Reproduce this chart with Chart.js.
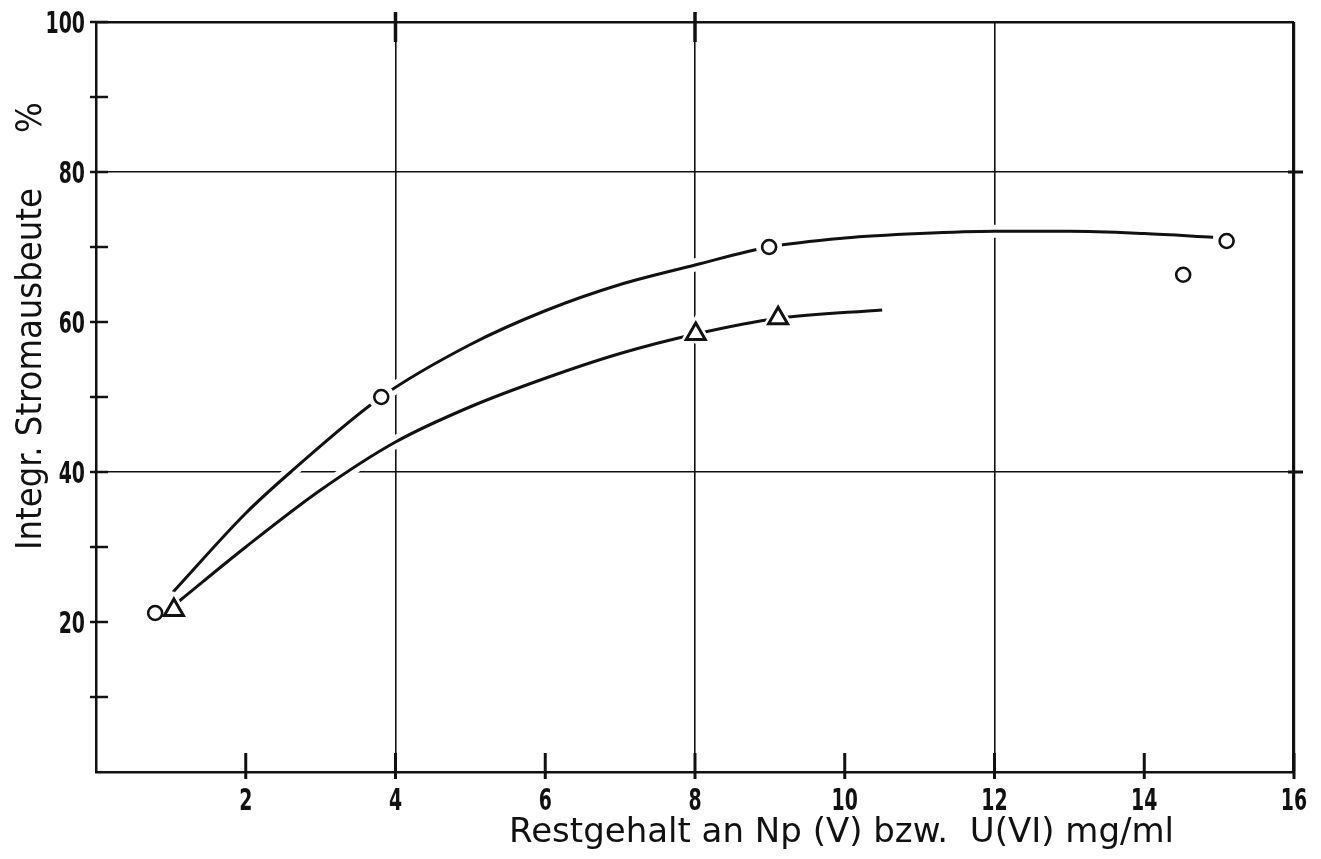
<!DOCTYPE html>
<html lang="de">
<head>
<meta charset="utf-8">
<title>Integr. Stromausbeute</title>
<script src="https://cdn.jsdelivr.net/npm/chart.js@4.4.1/dist/chart.umd.min.js"></script>
<style>
  html, body { margin: 0; padding: 0; background: #fff; }
  #wrap { width: 1321px; height: 859px; }
</style>
</head>
<body>
<div id="wrap"><canvas id="chart" width="1321" height="859"></canvas></div>
<script>
// Messpunkte (Kreise bzw. Dreiecke)
const kreise = [
  { x: 0.79, y: 21.2 }, { x: 3.81, y: 50.0 }, { x: 8.99, y: 70.0 },
  { x: 14.52, y: 66.3 }, { x: 15.1, y: 70.8 }
];
const dreiecke = [
  { x: 1.04, y: 21.6 }, { x: 8.01, y: 58.4 }, { x: 9.11, y: 60.5 }
];

// Ausgleichskurven
const kurveOben = [
  { x: 1.03, y: 24.0 }, { x: 2, y: 34.5 }, { x: 2.6, y: 40.0 }, { x: 3.81, y: 50.0 },
  { x: 5, y: 57.0 }, { x: 6, y: 61.5 }, { x: 7, y: 65.0 }, { x: 8, y: 67.6 },
  { x: 8.99, y: 70.0 }, { x: 10, y: 71.2 }, { x: 11, y: 71.8 }, { x: 12, y: 72.1 },
  { x: 13, y: 72.1 }, { x: 14, y: 71.8 }, { x: 14.92, y: 71.3 }
];
const kurveUnten = [
  { x: 1.1, y: 22.7 }, { x: 2, y: 30.0 }, { x: 3, y: 37.6 }, { x: 4, y: 44.0 },
  { x: 5, y: 48.7 }, { x: 6, y: 52.5 }, { x: 7, y: 55.8 }, { x: 8.01, y: 58.4 },
  { x: 9.11, y: 60.5 }, { x: 10.5, y: 61.6 }
];

// Achsen
const xTicks = [2, 4, 6, 8, 10, 12, 14, 16];
const yTicks = [10, 20, 30, 40, 50, 60, 70, 80, 90, 100];
const yLabels = [20, 40, 60, 80, 100];
const xGitter = [4, 8, 12];
const yGitter = [40, 80];
const xTitel = 'Restgehalt an Np (V) bzw.  U(VI) mg/ml';
const yTitel = 'Integr. Stromausbeute';
const yEinheit = '%';

const zahlFont = "'DejaVu Sans Condensed', 'DejaVu Sans', sans-serif";
const textFont = "'DejaVu Sans Condensed', 'DejaVu Sans', sans-serif";
const titelFont = "'DejaVu Sans', sans-serif";
const schwarz = '#111';

// schmale Ziffern: Schrift horizontal gestaucht
function schmalerText(ctx, text, px, py, align) {
  ctx.save();
  ctx.translate(px, py);
  ctx.scale(0.7, 1);
  ctx.textAlign = align;
  ctx.fillText(text, 0, 0);
  ctx.restore();
}

// Rahmen-Striche, Achsstriche und Beschriftung der Achsen
const rahmenPlugin = {
  id: 'rahmen',
  afterDraw(chart) {
    const { ctx, scales: { x, y } } = chart;
    const x0 = x.getPixelForValue(0), x16 = x.getPixelForValue(16);
    const y0 = y.getPixelForValue(0), y100 = y.getPixelForValue(100);
    ctx.save();
    ctx.strokeStyle = schwarz;
    ctx.lineCap = 'butt';

    ctx.lineWidth = 2.5;
    yTicks.forEach(v => {
      const py = y.getPixelForValue(v);
      ctx.beginPath(); ctx.moveTo(x0 - 6, py); ctx.lineTo(x0 + 12, py); ctx.stroke();
    });
    ctx.lineWidth = 3;
    xTicks.forEach(v => {
      const px = x.getPixelForValue(v);
      ctx.beginPath(); ctx.moveTo(px, y0 - 19); ctx.lineTo(px, y0 + 7); ctx.stroke();
    });
    // kurze Striche oben und rechts
    ctx.lineWidth = 3.5;
    [4, 8].forEach(v => {
      const px = x.getPixelForValue(v);
      ctx.beginPath(); ctx.moveTo(px, y100 - 10); ctx.lineTo(px, y100 + 20); ctx.stroke();
    });
    ctx.lineWidth = 3;
    yGitter.forEach(v => {
      const py = y.getPixelForValue(v);
      ctx.beginPath(); ctx.moveTo(x16 - 6, py); ctx.lineTo(x16 + 9, py); ctx.stroke();
    });

    // Zahlen an den Achsen
    ctx.fillStyle = schwarz;
    ctx.font = 'bold 30px ' + zahlFont;
    ctx.textBaseline = 'alphabetic';
    yLabels.forEach(v => schmalerText(ctx, String(v), x0 - 11, y.getPixelForValue(v) + 11, 'right'));
    xTicks.forEach(v => schmalerText(ctx, String(v), x.getPixelForValue(v), 810, 'center'));

    // Achsentitel
    ctx.font = '34px ' + titelFont;
    ctx.textAlign = 'right';
    ctx.fillText(xTitel, 1174, 842);

    ctx.font = '36px ' + textFont;
    ctx.translate(41, 550);
    ctx.rotate(-Math.PI / 2);
    ctx.textAlign = 'left';
    ctx.fillText(yTitel, 0, 0);
    ctx.fillText(yEinheit, 417, 0);
    ctx.restore();
  }
};

new Chart(document.getElementById('chart'), {
  type: 'scatter',
  data: {
    datasets: [
      // weisse Saeume unter den Kurven
      { data: kurveOben, showLine: true, borderColor: '#fff', borderWidth: 13, pointRadius: 0,
        cubicInterpolationMode: 'monotone', order: 10 },
      { data: kurveUnten, showLine: true, borderColor: '#fff', borderWidth: 13, pointRadius: 0,
        cubicInterpolationMode: 'monotone', order: 10 },
      { data: kurveOben, showLine: true, borderColor: schwarz, borderWidth: 3, pointRadius: 0,
        cubicInterpolationMode: 'monotone', order: 5 },
      { data: kurveUnten, showLine: true, borderColor: schwarz, borderWidth: 3, pointRadius: 0,
        cubicInterpolationMode: 'monotone', order: 5 },
      // Freiraum um die Messpunkte
      { data: kreise, pointStyle: 'circle', pointRadius: 13, pointBackgroundColor: '#fff',
        pointBorderColor: '#fff', pointBorderWidth: 0, order: 3 },
      { data: dreiecke, pointStyle: 'triangle', pointRadius: 19, pointBackgroundColor: '#fff',
        pointBorderColor: '#fff', pointBorderWidth: 0, order: 3 },
      { data: kreise, pointStyle: 'circle', pointRadius: 7, pointBackgroundColor: '#fff',
        pointBorderColor: schwarz, pointBorderWidth: 2.6, order: 1 },
      { data: dreiecke, pointStyle: 'triangle', pointRadius: 11, pointBackgroundColor: '#fff',
        pointBorderColor: schwarz, pointBorderWidth: 3, order: 1 }
    ]
  },
  options: {
    responsive: false,
    animation: false,
    events: [],
    devicePixelRatio: 1,
    layout: { padding: { left: 0, top: 22, right: 27, bottom: 0 } },
    plugins: { legend: { display: false }, tooltip: { enabled: false } },
    scales: {
      x: {
        type: 'linear', min: 0, max: 16,
        afterFit: s => { s.height = 87; s.paddingLeft = 0; s.paddingRight = 0; },
        afterBuildTicks: s => { s.ticks = [0].concat(xTicks).map(v => ({ value: v })); },
        border: { display: true, color: schwarz, width: 2.5 },
        grid: {
          drawTicks: false,
          color: c => xGitter.includes(c.tick.value) || c.tick.value === 16 ? schwarz : 'rgba(0,0,0,0)',
          lineWidth: c => c.tick.value === 16 ? 3.2 : 1.6
        },
        ticks: { display: false }
      },
      y: {
        type: 'linear', min: 0, max: 100,
        afterFit: s => { s.width = 96; s.paddingTop = 0; s.paddingBottom = 0; },
        afterBuildTicks: s => { s.ticks = [0].concat(yTicks).map(v => ({ value: v })); },
        border: { display: true, color: schwarz, width: 2.5 },
        grid: {
          drawTicks: false,
          color: c => yGitter.includes(c.tick.value) || c.tick.value === 100 ? schwarz : 'rgba(0,0,0,0)',
          lineWidth: c => c.tick.value === 100 ? 2.4 : 1.6
        },
        ticks: { display: false }
      }
    }
  },
  plugins: [rahmenPlugin]
});
</script>
</body>
</html>
